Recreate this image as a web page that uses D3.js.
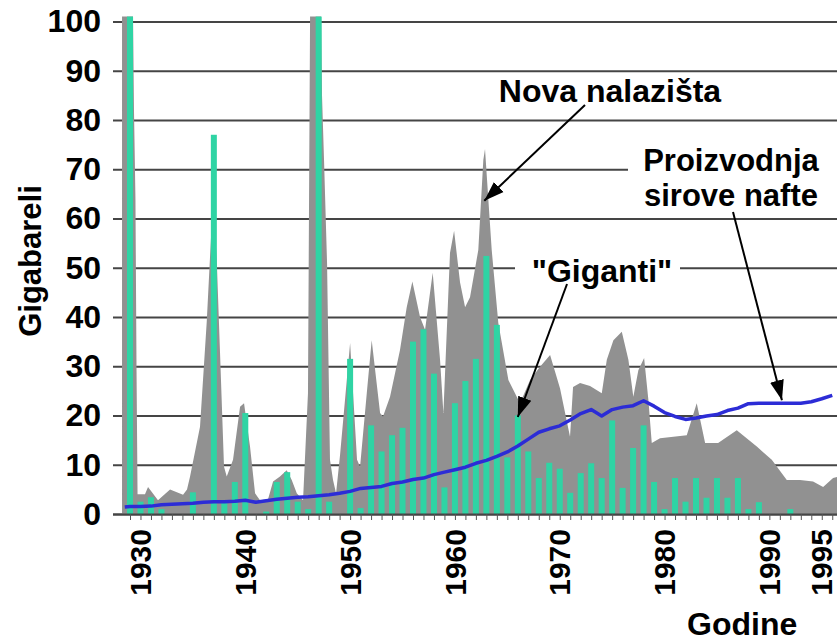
<!DOCTYPE html>
<html>
<head>
<meta charset="utf-8">
<script src="https://cdn.jsdelivr.net/npm/d3@7"></script>
<style>
  body { margin: 0; background: #fff; }
  text { font-family: "Liberation Sans", Arial, sans-serif; font-weight: bold; fill: #000; }
</style>
</head>
<body>
<div class="svgContainer"></div>
<script>
// "Giganti" - yearly discoveries of giant fields (green bars)
var barYears = [1929, 1930, 1931, 1932, 1933, 1934, 1935, 1936, 1937, 1938, 1939,
  1940, 1941, 1942, 1943, 1944, 1945, 1946, 1947, 1948, 1949,
  1950, 1951, 1952, 1953, 1954, 1955, 1956, 1957, 1958, 1959,
  1960, 1961, 1962, 1963, 1964, 1965, 1966, 1967, 1968, 1969,
  1970, 1971, 1972, 1973, 1974, 1975, 1976, 1977, 1978, 1979,
  1980, 1981, 1982, 1983, 1984, 1985, 1986, 1987, 1988, 1989,
  1990, 1991, 1992, 1993, 1994, 1995, 1996];
var giantValues = [101, 2.5, 3.4, 1, 0, 0, 4.4, 0, 77, 2.5, 6.5,
  20.5, 0, 0.5, 6.5, 8.5, 2.5, 1, 101, 2.5, 0,
  31.5, 1.2, 18, 12.7, 16, 17.5, 35, 37.5, 28.5, 5.4,
  22.5, 27, 31.5, 52.4, 38.4, 11.5, 20, 12.7, 7.3, 10.4,
  9.2, 4.3, 8.3, 10.3, 7.3, 19, 5.3, 13.4, 18, 6.5,
  1, 7.3, 2.5, 7.3, 3.3, 7.3, 3.3, 7.3, 1, 2.4,
  0, 0, 1, 0, 0, 0, 0];

// "Nova nalazista" - all new discoveries (grey area)
var discoveryYears = [1928.24, 1929.29, 1929.38, 1929.52, 1929.62, 1929.72, 1930.43, 1930.72, 1931.67, 1932.82,
  1934.06, 1934.44, 1934.73, 1935.68, 1936.32, 1936.63, 1936.92, 1937.27, 1937.59, 1937.97,
  1938.23, 1938.83, 1939.5, 1939.88, 1940.45, 1940.93, 1941.4, 1942.17, 1942.65, 1943.31,
  1943.95, 1944.43, 1944.91, 1945.51, 1945.98, 1946.18, 1947.23, 1947.32, 1947.51, 1947.8,
  1948.08, 1948.37, 1948.66, 1949.04, 1950.0, 1950.66, 1950.95, 1951.59, 1952.06, 1952.86,
  1953.14, 1953.81, 1954.76, 1955.4, 1955.94, 1956.67, 1957.15, 1957.88, 1958.58, 1958.9,
  1959.53, 1959.92, 1960.49, 1960.97, 1961.44, 1962.23, 1962.71, 1962.87, 1963.19, 1963.51,
  1964.14, 1965.1, 1966.21, 1967.17, 1968.12, 1969.08, 1970.03, 1970.98, 1971.27, 1971.94,
  1972.89, 1974.01, 1974.49, 1975.12, 1975.92, 1976.55, 1977.02, 1977.5, 1978.05, 1978.46,
  1978.78, 1979.57, 1980.84, 1982.12, 1983.07, 1983.87, 1985.11, 1986.89, 1988.8, 1990.23,
  1991.66, 1992.93, 1994.17, 1995.13, 1996.08, 1996.46];
var discoveryValues = [101, 101, 82, 64, 30, 4, 4, 5.5, 2.8, 5,
  3.9, 5, 7.6, 17.7, 39, 52, 64, 52, 32.7, 9.6,
  7.6, 11, 21.8, 22.5, 13.7, 4.2, 2.8, 3, 6.6, 7.6,
  8.9, 6.9, 4.2, 2.8, 24.5, 101, 101, 85, 72, 51,
  11, 6.9, 4.2, 12, 34.7, 11, 9.6, 24.5, 35.3, 20.5,
  19.8, 23.8, 33.3, 42, 47.2, 40, 37.4, 49, 31.3, 20.5,
  53, 57.5, 47, 42, 44, 53.6, 71.9, 74.1, 63.8, 53.6,
  38.8, 27.2, 22.5, 27.2, 29.9, 32.3, 25.5, 15.7, 25.8, 26.6,
  26, 24.5, 31.3, 35.3, 37, 31.3, 23.8, 29.2, 31.7, 23.1,
  14.4, 15.4, 15.7, 16, 22.5, 14.4, 14.4, 17, 13.7, 11,
  6.9, 6.9, 6.6, 5.5, 7.3, 7.5];

// "Proizvodnja sirove nafte" - crude oil production (blue line)
var productionYears = [1928.5, 1929, 1930, 1931, 1932, 1933, 1934, 1935, 1936, 1937, 1938, 1939,
  1940, 1941, 1942, 1943, 1944, 1945, 1946, 1947, 1948, 1949,
  1950, 1951, 1952, 1953, 1954, 1955, 1956, 1957, 1958, 1959,
  1960, 1961, 1962, 1963, 1964, 1965, 1966, 1967, 1968, 1969,
  1970, 1971, 1972, 1973, 1974, 1975, 1976, 1977, 1978, 1979,
  1980, 1981, 1982, 1983, 1984, 1985, 1986, 1987, 1988, 1989,
  1990, 1991, 1992, 1993, 1994, 1995, 1996];
var productionValues = [1.4, 1.5, 1.5, 1.6, 1.9, 2.0, 2.1, 2.2, 2.4, 2.5, 2.5, 2.6,
  2.8, 2.4, 2.7, 3.0, 3.2, 3.4, 3.5, 3.7, 3.9, 4.2,
  4.6, 5.2, 5.4, 5.6, 6.2, 6.5, 7.0, 7.3, 8.0, 8.5,
  9.0, 9.5, 10.3, 10.9, 11.7, 12.6, 13.8, 15.2, 16.6, 17.3,
  17.9, 19.1, 20.4, 21.2, 19.9, 21.2, 21.7, 22.0, 23.0, 21.9,
  20.6, 19.8, 19.2, 19.5, 19.9, 20.2, 21.0, 21.5, 22.4, 22.5,
  22.5, 22.5, 22.5, 22.5, 22.8, 23.4, 24.1];

var yTicks = [0, 10, 20, 30, 40, 50, 60, 70, 80, 90, 100];
var xTickLabels = [1930, 1940, 1950, 1960, 1970, 1980, 1990, 1995];

var width = 837, height = 641;
var plotLeft = 113, plotRight = 837;

var svg = d3.select(".svgContainer")
  .append("svg")
    .attr("width", width)
    .attr("height", height);

/* scales */
var x = d3.scaleLinear().domain([1929, 1983]).range([130, 696]);
var y = d3.scaleLinear().domain([0, 100]).range([514, 21.5]);

/* horizontal grid */
svg.append("g")
  .attr("class", "grid")
  .attr("transform", "translate(" + plotLeft + ",0)")
  .call(d3.axisLeft(y).tickValues(yTicks).tickSize(-(plotRight - plotLeft)).tickFormat(""))
  .call(function(g) { g.select(".domain").remove(); })
  .selectAll("line")
    .attr("stroke", "#454545")
    .attr("stroke-width", 2);

/* grey area: new discoveries */
var discoveries = discoveryYears.map(function(d, i) { return [d, discoveryValues[i]]; });
var area = d3.area()
  .x(function(d) { return x(d[0]); })
  .y0(y(0))
  .y1(function(d) { return y(d[1]); });
svg.append("path")
  .datum(discoveries)
  .attr("fill", "#919191")
  .attr("d", area);

/* green bars: giant fields */
var barWidth = 6;
svg.selectAll("rect.giant")
  .data(barYears)
  .enter()
    .append("rect")
      .attr("class", "giant")
      .attr("x", function(d) { return x(d) - barWidth / 2; })
      .attr("width", barWidth)
      .attr("y", function(d, i) { return y(giantValues[i]); })
      .attr("height", function(d, i) { return y(0) - y(giantValues[i]); })
      .attr("fill", "#2fd4a4");

/* blue line: production */
var production = productionYears.map(function(d, i) { return [d, productionValues[i]]; });
svg.append("path")
  .datum(production)
  .attr("fill", "none")
  .attr("stroke", "#2c2cd6")
  .attr("stroke-width", 3.5)
  .attr("stroke-linejoin", "round")
  .attr("d", d3.line()
    .x(function(d) { return x(d[0]); })
    .y(function(d) { return y(d[1]); }));

/* bottom axis with yearly ticks */
var allYears = d3.range(1929, 1997);
var xAxis = svg.append("g")
  .attr("transform", "translate(0," + y(0) + ")")
  .call(d3.axisBottom(x).tickValues(allYears).tickSize(6).tickSizeOuter(0).tickFormat(""));
xAxis.select(".domain")
  .attr("d", "M" + plotLeft + ",0.5H" + plotRight)
  .attr("stroke", "#454545")
  .attr("stroke-width", 2);
xAxis.selectAll(".tick line").attr("stroke", "#555");

/* rotated year labels */
var xLabels = svg.append("g")
  .attr("transform", "translate(0," + y(0) + ")")
  .call(d3.axisBottom(x).tickValues(xTickLabels).tickSize(0).tickFormat(d3.format("d")));
xLabels.select(".domain").remove();
xLabels.selectAll("text")
  .attr("transform", "rotate(-90)")
  .attr("text-anchor", "end")
  .attr("x", -15)
  .attr("y", 0)
  .attr("dy", "0.34em")
  .style("font-size", "30px")
  .attr("fill", "#000");

/* y labels */
var yLabels = svg.append("g")
  .attr("transform", "translate(101,0)")
  .call(d3.axisLeft(y).tickValues(yTicks).tickSize(0).tickPadding(0));
yLabels.select(".domain").remove();
yLabels.selectAll("text")
  .style("font-size", "32px")
  .attr("fill", "#000");

/* axis titles */
svg.append("text")
  .attr("transform", "translate(41,261) rotate(-90)")
  .attr("text-anchor", "middle")
  .style("font-size", "31px")
  .text("Gigabareli");
svg.append("text")
  .attr("x", 687)
  .attr("y", 635)
  .style("font-size", "32px")
  .text("Godine");

/* annotations */
var defs = svg.append("defs");
defs.append("marker")
  .attr("id", "arrow")
  .attr("markerUnits", "userSpaceOnUse")
  .attr("viewBox", "0 -8 20 16")
  .attr("refX", 20)
  .attr("refY", 0)
  .attr("markerWidth", 20)
  .attr("markerHeight", 16)
  .attr("orient", "auto")
  .append("path")
    .attr("d", "M0,-7L20,0L0,7Z")
    .attr("fill", "#000");

var notes = [
  { lines: ["Nova nalazišta"], size: 32, cx: 610, baseline: 102, box: [490, 76, 240, 32], from: [585, 105], to: [1962.8, 63.6] },
  { lines: ["\"Giganti\""], size: 32, cx: 602, baseline: 282, box: [515, 252, 165, 36], from: [567, 284], to: [1966.0, 19.7] },
  { lines: ["Proizvodnja", "sirove nafte"], size: 31, cx: 731, baseline: 171, box: [628, 142, 209, 70], from: [733, 212], to: [1991.2, 23.1] }
];

notes.forEach(function(n) {
  svg.append("rect")
    .attr("x", n.box[0]).attr("y", n.box[1])
    .attr("width", n.box[2]).attr("height", n.box[3])
    .attr("fill", "#fff");
  n.lines.forEach(function(t, i) {
    svg.append("text")
      .attr("x", n.cx)
      .attr("y", n.baseline + i * 35)
      .attr("text-anchor", "middle")
      .style("font-size", n.size + "px")
      .text(t);
  });
  svg.append("line")
    .attr("x1", n.from[0]).attr("y1", n.from[1])
    .attr("x2", x(n.to[0])).attr("y2", y(n.to[1]))
    .attr("stroke", "#000")
    .attr("stroke-width", 2)
    .attr("marker-end", "url(#arrow)");
});
</script>
</body>
</html>
